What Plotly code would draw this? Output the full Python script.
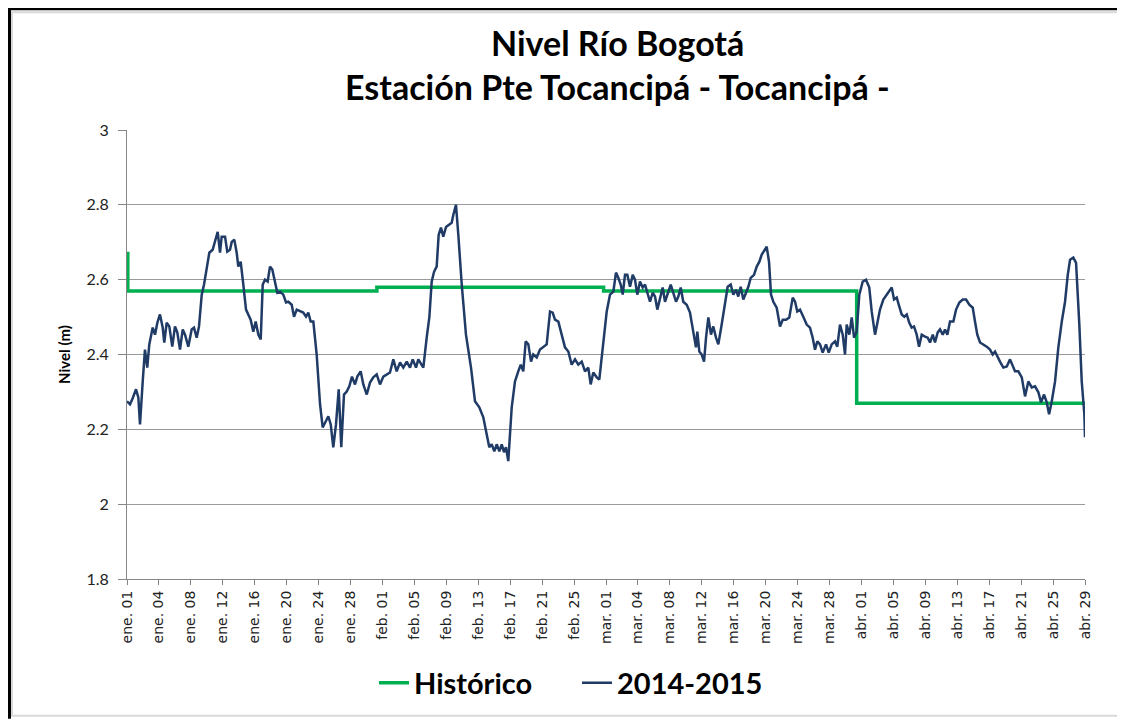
import plotly.graph_objects as go

# ---------------- data ----------------
# x axis unit: Excel category position (4 units between consecutive tick labels)
tick_labels = ["ene. 01", "ene. 04", "ene. 08", "ene. 12", "ene. 16", "ene. 20", "ene. 24", "ene. 28",
               "feb. 01", "feb. 05", "feb. 09", "feb. 13", "feb. 17", "feb. 21", "feb. 25",
               "mar. 01", "mar. 04", "mar. 08", "mar. 12", "mar. 16", "mar. 20", "mar. 24", "mar. 28",
               "abr. 01", "abr. 05", "abr. 09", "abr. 13", "abr. 17", "abr. 21", "abr. 25", "abr. 29"]
tick_pos = [4 * i for i in range(len(tick_labels))]

# Histórico (step series)
hist_x = [0, 0.1, 31.3, 59.7, 91.4, 120]
hist_y = [2.67, 2.57, 2.58, 2.57, 2.27, 2.27]

# 2014-2015 series, in four pieces
ene_x = [0, 0.38, 0.71, 1.13, 1.42, 1.63, 1.97, 2.25, 2.54, 2.79,
         3.22, 3.51, 3.80, 4.13, 4.47, 4.67, 4.97, 5.30, 5.67, 6.01,
         6.30, 6.64, 6.98, 7.27, 7.68, 8.10, 8.39, 8.73, 9.02, 9.36,
         9.65, 9.98, 10.31, 10.73, 11.02, 11.36, 11.65, 11.86, 12.28, 12.56,
         12.90, 13.12, 13.44, 13.74, 13.94, 14.24, 14.57, 14.91, 15.19, 15.49,
         15.82, 16.12, 16.45, 16.75, 17.00, 17.29, 17.62, 17.91, 18.20, 18.54,
         18.83, 19.16, 19.58, 19.92, 20.21, 20.63, 20.92, 21.26, 21.67, 22.08,
         22.42, 22.71, 23.01, 23.34, 23.76, 24.18, 24.51, 24.93, 25.22, 25.52,
         25.84, 26.18, 26.52, 26.84, 27.18, 27.52, 27.85, 28.18, 28.56, 28.85,
         29.27, 29.60]
ene_y = [2.275, 2.267, 2.283, 2.307, 2.285, 2.213, 2.329, 2.413, 2.365, 2.427,
         2.472, 2.453, 2.485, 2.507, 2.472, 2.432, 2.485, 2.475, 2.421, 2.475,
         2.459, 2.413, 2.467, 2.453, 2.421, 2.467, 2.472, 2.445, 2.475, 2.56,
         2.587, 2.632, 2.672, 2.68, 2.701, 2.728, 2.672, 2.715, 2.715, 2.675,
         2.68, 2.701, 2.707, 2.672, 2.635, 2.648, 2.587, 2.52, 2.507, 2.493,
         2.461, 2.488, 2.453, 2.44, 2.587, 2.6, 2.595, 2.635, 2.627, 2.595,
         2.565, 2.568, 2.56, 2.539, 2.541, 2.533, 2.501, 2.52, 2.515, 2.512,
         2.501, 2.512, 2.488, 2.488, 2.4, 2.267, 2.205, 2.221, 2.235, 2.213,
         2.152, 2.213, 2.307, 2.152, 2.293, 2.301, 2.315, 2.341, 2.32, 2.341,
         2.355, 2.32]

feb_x = [30.03, 30.44, 30.85, 31.28, 31.69, 32.11, 32.53, 32.94, 33.36, 33.78,
         34.20, 34.61, 35.04, 35.45, 35.79, 36.20, 36.49, 37.12, 37.54, 37.87,
         38.17, 38.46, 38.79, 39.04, 39.33, 39.62, 39.96, 40.37, 40.67, 40.87,
         41.21, 41.50, 41.93, 42.46, 43.09, 43.59, 44.13, 44.63, 45.06, 45.38,
         45.68, 46.01, 46.31, 46.64, 46.94, 47.22, 47.47, 47.76, 48.19, 48.60,
         49.01, 49.32, 49.64, 49.94, 50.27, 50.61, 50.89, 51.32, 51.73, 52.15,
         52.57, 52.99, 53.32, 53.61, 54.03, 54.45, 54.86, 55.28, 55.70, 56.12,
         56.53, 56.96, 57.37, 57.78, 58.08, 58.41, 58.84, 59.16, 59.46]
feb_y = [2.293, 2.325, 2.339, 2.347, 2.32, 2.341, 2.347, 2.352, 2.387, 2.355,
         2.379, 2.365, 2.381, 2.365, 2.387, 2.365, 2.387, 2.365, 2.445, 2.499,
         2.595, 2.621, 2.635, 2.72, 2.739, 2.715, 2.741, 2.747, 2.752, 2.773,
         2.8, 2.72, 2.587, 2.453, 2.365, 2.275, 2.259, 2.232, 2.187, 2.152,
         2.16, 2.141, 2.16, 2.141, 2.16, 2.139, 2.152, 2.115, 2.259, 2.328,
         2.355, 2.373, 2.355, 2.435, 2.427, 2.381, 2.4, 2.392, 2.413, 2.419,
         2.427, 2.515, 2.512, 2.493, 2.488, 2.453, 2.419, 2.408, 2.373, 2.387,
         2.373, 2.381, 2.355, 2.365, 2.32, 2.352, 2.339, 2.333, 2.4]

mar_x = [59.87, 60.09, 60.50, 60.92, 61.25, 61.54, 61.84, 62.09, 62.38, 62.67,
         63.01, 63.35, 63.63, 63.92, 64.26, 64.60, 64.89, 65.18, 65.51, 65.85,
         66.14, 66.43, 66.77, 67.10, 67.39, 67.81, 68.11, 68.43, 68.77, 69.06,
         69.36, 69.68, 70.11, 70.52, 70.94, 71.27, 71.44, 71.69, 71.99, 72.28,
         72.53, 72.82, 73.15, 73.44, 73.78, 74.07, 74.49, 74.91, 75.24, 75.62,
         75.95, 76.28, 76.57, 76.87, 77.20, 77.54, 77.83, 78.13, 78.54, 78.88,
         79.21, 79.51, 79.83, 80.13, 80.42, 80.67, 80.96, 81.38, 81.80, 82.14,
         82.55, 82.96, 83.39, 83.68, 83.96, 84.30, 84.71, 85.14, 85.55, 85.89,
         86.18, 86.47, 86.81, 87.14, 87.56, 87.90, 88.27, 88.69, 88.97]
mar_y = [2.472, 2.515, 2.56, 2.568, 2.619, 2.605, 2.587, 2.56, 2.613, 2.613,
         2.581, 2.613, 2.6, 2.56, 2.595, 2.579, 2.587, 2.565, 2.541, 2.565,
         2.555, 2.52, 2.552, 2.579, 2.541, 2.568, 2.587, 2.565, 2.541, 2.555,
         2.579, 2.541, 2.533, 2.512, 2.461, 2.419, 2.461, 2.408, 2.4, 2.381,
         2.445, 2.499, 2.453, 2.475, 2.445, 2.427, 2.48, 2.533, 2.581, 2.587,
         2.56, 2.573, 2.555, 2.581, 2.547, 2.565, 2.581, 2.605, 2.613, 2.635,
         2.648, 2.667, 2.68, 2.688, 2.648, 2.56, 2.541, 2.525, 2.475, 2.493,
         2.493, 2.499, 2.552, 2.541, 2.515, 2.52, 2.501, 2.48, 2.472, 2.445,
         2.413, 2.435, 2.427, 2.405, 2.427, 2.405, 2.427, 2.435, 2.421]

abr_x = [89.31, 89.65, 89.94, 90.15, 90.48, 90.78, 91.07, 91.40, 91.73, 92.16,
         92.57, 92.98, 93.28, 93.70, 93.98, 94.32, 94.74, 95.16, 95.49, 95.79,
         96.08, 96.42, 96.74, 97.04, 97.37, 97.67, 97.99, 98.29, 98.58, 98.92,
         99.21, 99.55, 99.96, 100.30, 100.59, 100.93, 101.21, 101.55, 101.84, 102.18,
         102.47, 102.76, 103.09, 103.51, 103.85, 104.26, 104.69, 105.10, 105.51, 105.94,
         106.22, 106.51, 106.85, 107.26, 107.69, 108.10, 108.44, 108.73, 109.01, 109.35,
         109.77, 110.20, 110.61, 110.95, 111.23, 111.65, 112.08, 112.49, 112.90, 113.33,
         113.74, 114.16, 114.49, 114.87, 115.21, 115.50, 115.84, 116.25, 116.66, 117.09,
         117.50, 117.84, 118.13, 118.54, 118.88, 119.29, 119.59, 119.92, 120.0]
abr_y = [2.48, 2.453, 2.4, 2.48, 2.453, 2.499, 2.445, 2.461, 2.56, 2.595,
         2.6, 2.579, 2.515, 2.453, 2.488, 2.52, 2.547, 2.56, 2.568, 2.579,
         2.547, 2.552, 2.528, 2.507, 2.501, 2.507, 2.485, 2.472, 2.475, 2.453,
         2.421, 2.453, 2.448, 2.445, 2.432, 2.453, 2.432, 2.459, 2.467, 2.453,
         2.467, 2.453, 2.488, 2.488, 2.52, 2.539, 2.547, 2.547, 2.533, 2.525,
         2.488, 2.453, 2.432, 2.427, 2.421, 2.413, 2.4, 2.408, 2.395, 2.381,
         2.365, 2.368, 2.387, 2.368, 2.355, 2.355, 2.339, 2.288, 2.328, 2.312,
         2.315, 2.299, 2.272, 2.293, 2.272, 2.24, 2.275, 2.328, 2.419, 2.488,
         2.541, 2.613, 2.653, 2.659, 2.645, 2.48, 2.328, 2.24, 2.179]

serie_x = ene_x + feb_x + mar_x + abr_x
serie_y = ene_y + feb_y + mar_y + abr_y

# ---------------- figure ----------------
fig = go.Figure()
fig.add_trace(go.Scatter(x=hist_x, y=hist_y, mode="lines", name="Histórico",
                         line=dict(color="#00b050", width=3.5, shape="hv")))
fig.add_trace(go.Scatter(x=serie_x, y=serie_y, mode="lines", name="2014-2015",
                         line=dict(color="#1f3b66", width=2.5)))

OFF = 8  # page body margin
W, H = 1125 - OFF, 719 - OFF
L, R, T, B = 127 - OFF, 1085 - OFF, 130 - OFF, 580 - OFF


def px(x):  # screen x -> paper
    return (x - OFF - L) / (R - L)


def py(y):  # screen y -> paper
    return (B - (y - OFF)) / (B - T)


fig.update_layout(
    width=W, height=H,
    margin=dict(l=L, r=W - R, t=T, b=H - B),
    paper_bgcolor="white", plot_bgcolor="white",
    showlegend=True,
    legend=dict(orientation="h", x=px(374), xanchor="left", y=py(683), yanchor="middle",
                font=dict(family="Lato", size=29, color="black", weight="bold"),
                entrywidth=158, entrywidthmode="pixels",
                itemwidth=30, traceorder="normal", bgcolor="rgba(0,0,0,0)"),
    annotations=[
        dict(text="<b>Nivel Río Bogotá</b>", x=px(617), y=py(42), xref="paper", yref="paper",
             showarrow=False, xanchor="center", yanchor="middle",
             font=dict(family="Lato", size=34, color="black")),
        dict(text="<b>Estación Pte Tocancipá - Tocancipá -</b>", x=px(617), y=py(86),
             xref="paper", yref="paper", showarrow=False, xanchor="center", yanchor="middle",
             font=dict(family="Lato", size=34, color="black")),
    ],
    shapes=[
        dict(type="rect", xref="paper", yref="paper", x0=px(12), x1=px(1121), y0=py(717), y1=py(12),
             line=dict(color="#d9d9d9", width=2)),
        dict(type="line", xref="paper", yref="paper", x0=px(9.5), x1=px(9.5), y0=py(720), y1=py(7),
             line=dict(color="black", width=3)),
        dict(type="line", xref="paper", yref="paper", x0=px(8), x1=px(1125), y0=py(8.5), y1=py(8.5),
             line=dict(color="black", width=3)),
    ],
)

fig.update_xaxes(
    range=[0, 120], tickmode="array", tickvals=tick_pos, ticktext=tick_labels,
    tickangle=-90, ticks="outside", ticklen=5, tickcolor="#868686",
    showline=True, linecolor="#868686", linewidth=1, showgrid=False, zeroline=False,
    tickfont=dict(family="DejaVu Sans", size=14, color="#222222"),
)
fig.update_yaxes(
    range=[1.8, 3.0], dtick=0.2, tick0=1.8, ticks="outside", ticklen=8, tickcolor="#868686",
    showline=True, linecolor="#868686", linewidth=1, ticklabelstandoff=6,
    showgrid=True, gridcolor="#9a9a9a", gridwidth=1, zeroline=False,
    tickfont=dict(family="Lato", size=16, color="#222222"),
    title=dict(text="<b>Nivel (m)</b>", font=dict(family="Lato", size=15, color="black"), standoff=12),
)

fig.write_html("out.html")
